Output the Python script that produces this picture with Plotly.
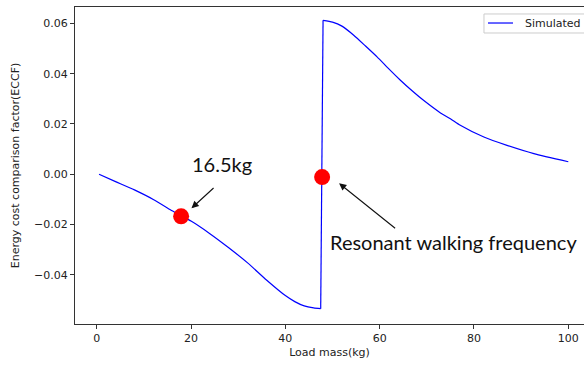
import plotly.graph_objects as go

# Simulated ECCF curve: below resonance and above resonance
mass_below = [0.5, 4, 8, 12, 16, 18, 20, 24, 28, 32, 36, 40, 42, 44, 46, 47.5]
eccf_below = [0.0, -0.0029, -0.0062, -0.0100, -0.0145, -0.0167, -0.0186, -0.0236, -0.0292,
              -0.0352, -0.0420, -0.0482, -0.0506, -0.0523, -0.0531, -0.0534]
mass_above = [48, 50, 52, 54.5, 57, 59.5, 62, 64.4, 67, 69.3, 72.9, 75, 77.1, 82.1, 87, 92.7, 100]
eccf_above = [0.0612, 0.0605, 0.0589, 0.0553, 0.0510, 0.0466, 0.0418, 0.0374, 0.0330, 0.0294,
              0.0244, 0.0221, 0.0195, 0.0148, 0.0115, 0.0082, 0.0050]

# Highlighted points
mark_x = [17.9, 47.8]
mark_y = [-0.0167, -0.0011]

x_ticks = [0, 20, 40, 60, 80, 100]
y_ticks = [-0.04, -0.02, 0.0, 0.02, 0.04, 0.06]
y_tick_text = ["\u22120.04", "\u22120.02", "0.00", "0.02", "0.04", "0.06"]

BLUE = "#0000ff"
fig = go.Figure()
fig.add_trace(go.Scatter(x=mass_below, y=eccf_below, mode="lines", name="Simulated",
                         showlegend=False,
                         line=dict(color=BLUE, width=1.2, shape="spline", smoothing=0.6)))
fig.add_trace(go.Scatter(x=[mass_below[-1], mass_above[0]], y=[eccf_below[-1], eccf_above[0]],
                         mode="lines", showlegend=False, line=dict(color=BLUE, width=1.2)))
fig.add_trace(go.Scatter(x=mass_above, y=eccf_above, mode="lines", showlegend=False,
                         line=dict(color=BLUE, width=1.2, shape="spline", smoothing=0.6)))
fig.add_trace(go.Scatter(x=mark_x, y=mark_y, mode="markers", showlegend=False,
                         marker=dict(color="#ff0000", size=16)))

ann_font = dict(family="Lato, Carlito, sans-serif", size=20, color="#111")
fig.add_annotation(x=26.6, y=0.0041, text="16.5kg", showarrow=False, font=ann_font)
fig.add_annotation(x=75.6, y=-0.0269, text="Resonant walking frequency", showarrow=False, font=ann_font)
# arrows
fig.add_annotation(x=20.1, y=-0.0135, ax=25.1, ay=-0.0049, axref="x", ayref="y",
                   text="", showarrow=True, arrowhead=2, arrowsize=1.3, arrowwidth=1.1,
                   arrowcolor="#111", standoff=0)
fig.add_annotation(x=51.4, y=-0.0036, ax=63.6, ay=-0.0219, axref="x", ayref="y",
                   text="", showarrow=True, arrowhead=2, arrowsize=1.3, arrowwidth=1.1,
                   arrowcolor="#111", standoff=0)

tick_font = dict(family="DejaVu Sans", size=11, color="#222")

# Legend box (cut off at the right edge, as in the reference)
fig.add_shape(type="rect", xref="paper", yref="paper", x0=0.8035, x1=1.05, y0=0.918, y1=0.978,
              line=dict(color="#cccccc", width=1), fillcolor="white", layer="above")
fig.add_shape(type="line", xref="paper", yref="paper", x0=0.8114, x1=0.8605, y0=0.9495, y1=0.9495,
              line=dict(color=BLUE, width=1.2), layer="above")
fig.add_annotation(xref="paper", yref="paper", x=0.880, y=0.9495, xanchor="left", yanchor="middle",
                   text="Simulated", showarrow=False, font=tick_font)

fig.update_layout(
    width=584, height=367,
    margin=dict(l=75, r=0, t=7, b=43),
    plot_bgcolor="white", paper_bgcolor="white",
    font=tick_font,
    showlegend=False,
    xaxis=dict(range=[-4.6, 103.33], tickvals=x_ticks, showgrid=False, zeroline=False,
               showline=True, mirror=True, linecolor="#333", linewidth=1,
               ticks="outside", ticklen=4, tickcolor="#333",
               title=dict(text="Load mass(kg)", font=tick_font, standoff=4)),
    yaxis=dict(range=[-0.0595, 0.0665], tickvals=y_ticks, ticktext=y_tick_text,
               showgrid=False, zeroline=False,
               showline=True, mirror=False, linecolor="#333", linewidth=1,
               ticks="outside", ticklen=4, tickcolor="#333",
               title=dict(text="Energy cost comparison factor(ECCF)", font=tick_font, standoff=12)),
)

fig.write_html("out.html", config={"displayModeBar": False},
               post_script="document.body.style.margin='0';")
